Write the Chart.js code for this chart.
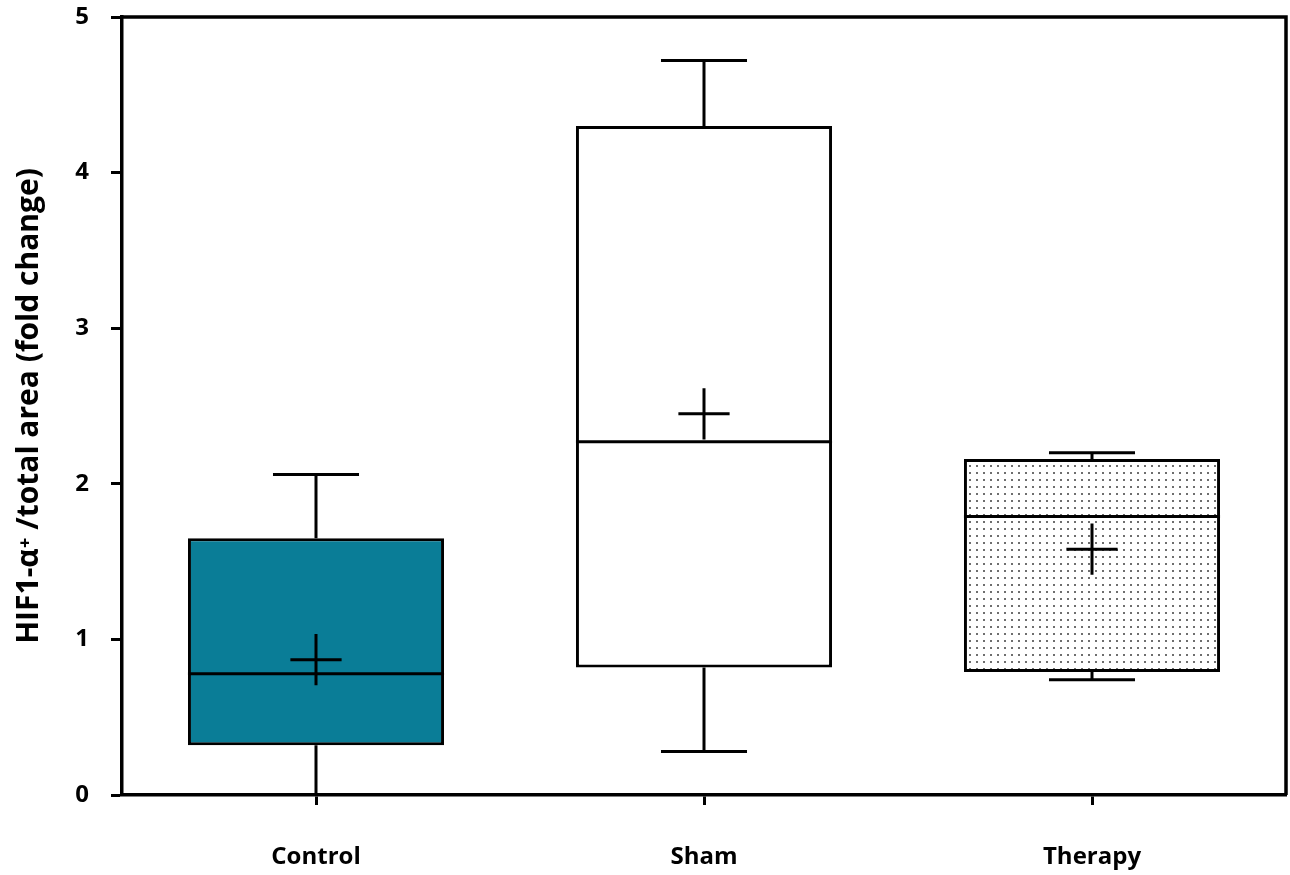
<!DOCTYPE html>
<html>
<head>
<meta charset="utf-8">
<script src="https://cdn.jsdelivr.net/npm/chart.js@4.4.1/dist/chart.umd.min.js"></script>
<style>
  html, body { margin: 0; padding: 0; background: #ffffff; }
  #wrap { width: 1290px; height: 875px; }
</style>
</head>
<body>
<div id="wrap"><canvas id="c" width="1290" height="875"></canvas></div>
<script>
// ---- data ----
const categories   = ['Control', 'Sham', 'Therapy'];
const whiskerLow   = [0.00, 0.28, 0.74];
const q1           = [0.32, 0.82, 0.79];
const medians      = [0.78, 2.27, 1.79];
const q3           = [1.65, 4.30, 2.16];
const whiskerHigh  = [2.06, 4.72, 2.20];
const means        = [0.87, 2.45, 1.58];
const yTickValues  = [0, 1, 2, 3, 4, 5];
const yTitle       = 'HIF1-\u03B1\u207A /total area (fold change)';

// ---- styling ----
const FONT = "'Open Sans', 'Noto Sans', sans-serif";
const TEAL = '#0a7d97';

function dotPattern() {
  const p = document.createElement('canvas');
  p.width = 7; p.height = 7;
  const g = p.getContext('2d');
  g.fillStyle = '#ffffff';
  g.fillRect(0, 0, 7, 7);
  g.fillStyle = '#6e6e6e';
  g.fillRect(3, 3, 2, 2);
  return g.createPattern(p, 'repeat');
}

const boxData = categories.map((c, i) => [q1[i], q3[i]]);

const boxPlotPlugin = {
  id: 'boxPlotExtras',
  beforeDatasetsDraw(chart) {
    const ctx = chart.ctx;
    const y = chart.scales.y;
    const meta = chart.getDatasetMeta(0);
    ctx.save();
    ctx.strokeStyle = '#000';
    ctx.lineWidth = 3;
    meta.data.forEach((bar, i) => {
      const cx = bar.x;
      const capHalf = bar.width * 0.168;
      const yHi = y.getPixelForValue(whiskerHigh[i]);
      const yQ3 = y.getPixelForValue(q3[i]);
      const yLo = y.getPixelForValue(whiskerLow[i]);
      const yQ1 = y.getPixelForValue(q1[i]);
      ctx.beginPath();
      ctx.moveTo(cx, yQ3); ctx.lineTo(cx, yHi);
      ctx.moveTo(cx - capHalf, yHi); ctx.lineTo(cx + capHalf, yHi);
      ctx.moveTo(cx, yQ1); ctx.lineTo(cx, yLo);
      if (whiskerLow[i] > y.min) {
        ctx.moveTo(cx - capHalf, yLo); ctx.lineTo(cx + capHalf, yLo);
      }
      ctx.stroke();
    });
    ctx.restore();
  },
  afterDatasetsDraw(chart) {
    const ctx = chart.ctx;
    const y = chart.scales.y;
    const meta = chart.getDatasetMeta(0);
    ctx.save();
    ctx.strokeStyle = '#000';
    meta.data.forEach((bar, i) => {
      const cx = bar.x;
      const half = bar.width / 2;
      const yMed = y.getPixelForValue(medians[i]);
      ctx.lineWidth = 3;
      ctx.beginPath();
      ctx.moveTo(cx - half, yMed); ctx.lineTo(cx + half, yMed);
      ctx.stroke();
      const yMean = y.getPixelForValue(means[i]);
      const m = bar.width * 0.1;
      ctx.lineWidth = 3;
      ctx.beginPath();
      ctx.moveTo(cx - m, yMean); ctx.lineTo(cx + m, yMean);
      ctx.moveTo(cx, yMean - m); ctx.lineTo(cx, yMean + m);
      ctx.stroke();
    });
    ctx.restore();
  },
  afterDraw(chart) {
    const a = chart.chartArea;
    const ctx = chart.ctx;
    ctx.save();
    ctx.strokeStyle = '#000';
    ctx.lineWidth = 3.5;
    ctx.beginPath();
    ctx.moveTo(a.left - 1.5, a.top);
    ctx.lineTo(a.right, a.top);
    ctx.lineTo(a.right, a.bottom);
    ctx.stroke();
    ctx.restore();
  }
};

new Chart(document.getElementById('c'), {
  type: 'bar',
  data: {
    labels: categories,
    datasets: [{
      label: 'Box',
      data: boxData,
      backgroundColor: [TEAL, '#ffffff', dotPattern()],
      borderColor: '#000000',
      borderWidth: 3,
      borderSkipped: false,
      barPercentage: 0.66,
      categoryPercentage: 1.0
    }]
  },
  options: {
    responsive: false,
    animation: false,
    events: [],
    layout: { padding: { top: 0, right: 4, left: 0, bottom: 0 } },
    plugins: {
      legend: { display: false },
      tooltip: { enabled: false },
      title: { display: false }
    },
    scales: {
      x: {
        type: 'category',
        offset: true,
        grid: {
          display: true, drawOnChartArea: false, drawTicks: true,
          offset: false, tickLength: 10, tickWidth: 3, tickColor: '#000'
        },
        border: { display: true, color: '#000', width: 3.5 },
        ticks: {
          color: '#000', padding: 38,
          font: { family: FONT, size: 24, weight: 'bold' }
        },
        afterFit(scale) { scale.height = 80; }
      },
      y: {
        min: 0, max: 5,
        afterBuildTicks(scale) { scale.ticks = yTickValues.map(v => ({ value: v })); },
        grid: {
          display: true, drawOnChartArea: false, drawTicks: true,
          tickLength: 11, tickWidth: 3, tickColor: '#000'
        },
        border: { display: true, color: '#000', width: 3.5 },
        ticks: {
          color: '#000', padding: 22,
          font: { family: FONT, size: 24, weight: 'bold' }
        },
        title: {
          display: true, text: yTitle, color: '#000',
          font: { family: FONT, size: 30, weight: 'bold' },
          padding: { top: 11, bottom: 0 }
        },
        afterFit(scale) {
          scale.width = 122;
          scale.paddingTop = 17;
          scale.paddingBottom = 0;
        }
      }
    }
  },
  plugins: [boxPlotPlugin]
});
</script>
</body>
</html>
